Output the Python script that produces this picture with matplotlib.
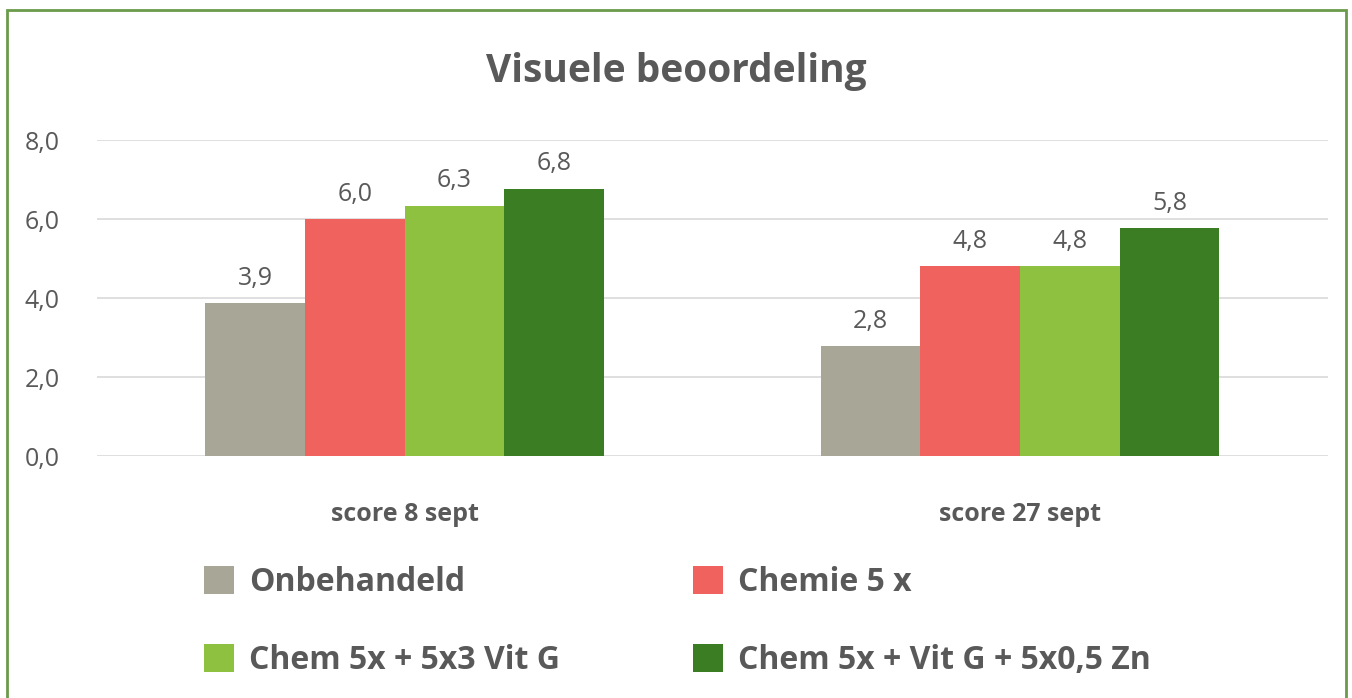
import matplotlib.pyplot as plt
import numpy as np
from matplotlib.patches import Rectangle

# Data
categories = ["score 8 sept", "score 27 sept"]
series_names = ["Onbehandeld", "Chemie 5 x", "Chem 5x + 5x3 Vit G", "Chem 5x + Vit G + 5x0,5 Zn"]
onbehandeld = [3.87, 2.78]
chemie = [6.0, 4.81]
chem_vitg = [6.33, 4.81]
chem_vitg_zn = [6.76, 5.76]
colors = ["#a8a797", "#f0625e", "#8dc13f", "#3a7d22"]

plt.rcParams['font.family'] = ['Open Sans', 'DejaVu Sans']
text_color = "#595959"

fig = plt.figure(figsize=(13.52, 6.98), dpi=100)
ax = fig.add_axes([0.0717, 0.3467, 0.9103, 0.4527])

x = np.arange(len(categories))
width = 0.162
all_series = [onbehandeld, chemie, chem_vitg, chem_vitg_zn]
bars = []
for i, (vals, col, name) in enumerate(zip(all_series, colors, series_names)):
    b = ax.bar(x + (i - 1.5) * width, vals, width, color=col, label=name, zorder=3)
    ax.bar_label(b, labels=[f"{v:.1f}".replace(".", ",") for v in vals],
                 padding=9, fontsize=18, color=text_color)
    bars.append(b)

ax.set_xlim(-0.5, 1.5)
ax.set_ylim(0, 8)
ax.set_yticks([0, 2, 4, 6, 8])
ax.set_yticklabels([f"{v:.1f}".replace(".", ",") for v in [0, 2, 4, 6, 8]])
ax.set_xticks(x)
ax.set_xticklabels(categories, fontweight="bold")
ax.tick_params(axis="y", length=0, pad=27, labelsize=18, labelcolor=text_color)
ax.tick_params(axis="x", length=0, pad=33, labelsize=18, labelcolor=text_color)
ax.grid(axis="y", color="#d9d9d9", linewidth=1.2, zorder=0)
for s in ax.spines.values():
    s.set_visible(False)

fig.text(0.5, 0.898, "Visuele beoordeling", ha="center", va="center",
         fontsize=28, fontweight="bold", color=text_color)

# legend: column order -> rows like the reference
order = [0, 2, 1, 3]
leg = fig.legend([bars[i] for i in order], [series_names[i] for i in order],
                 ncol=2, loc="upper left", bbox_to_anchor=(0.151, 0.189),
                 frameon=False, fontsize=23, handlelength=0.95, handleheight=0.95,
                 handletextpad=0.45, labelspacing=1.4, columnspacing=4.17,
                 borderaxespad=0, borderpad=0)
for t in leg.get_texts():
    t.set_color(text_color)
    t.set_fontweight("bold")

# green border around the chart
fig.patches.append(Rectangle((7 / 1352, -0.05), 1339 / 1352, 1 - 10 / 698 + 0.05,
                             transform=fig.transFigure, fill=False,
                             edgecolor="#6a9a4a", linewidth=2))

fig.savefig("out.png", dpi=100)
